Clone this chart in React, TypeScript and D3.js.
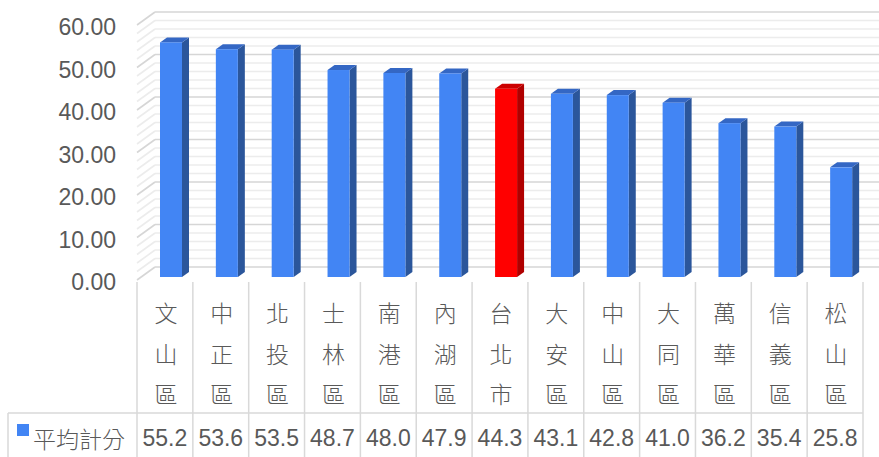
import React from "react";
import * as d3 from "d3";

const categories = ["文山區", "中正區", "北投區", "士林區", "南港區", "內湖區", "台北市", "大安區", "中山區", "大同區", "萬華區", "信義區", "松山區"];
const values = [55.2, 53.6, 53.5, 48.7, 48.0, 47.9, 44.3, 43.1, 42.8, 41.0, 36.2, 35.4, 25.8];
const highlight = "台北市";
const seriesName = "平均計分";
const yTicks = [0, 10, 20, 30, 40, 50, 60];
const minorTicks = d3.range(0, 61, 2);

const W = 879, H = 457;
const DX = 18, DY = -13; // wall depth
const BDX = 7, BDY = -5; // bar depth
const NUM_FONT = "'Liberation Sans', Arial, sans-serif";
const CJK_FONT = "'Noto Sans CJK TC', 'Noto Sans CJK SC', sans-serif";
const TXT = "#595959";

export default function App() {
  const x = d3.scaleBand<string>().domain(categories).range([137, 863]).paddingInner(0).paddingOuter(0);
  const yFront = d3.scaleLinear().domain([0, 60]).range([280, 25]);
  const yBack = (v: number) => yFront(v) + DY;
  const yBar = (v: number) => yFront(v) - 3;
  const wallX0 = 137, wallX1 = wallX0 + DX;
  const tableTop = 282, rowSplit = 413;
  const barW = 22;

  return (
    <svg width={W} height={H} style={{ position: "absolute", left: 0, top: 0, background: "#fff" }}>
      {/* minor gridlines */}
      {minorTicks.filter((t) => t % 10 !== 0).map((t) => (
        <g key={"m" + t} stroke="#ececec" strokeWidth={1.6} fill="none">
          <line x1={wallX1} x2={W} y1={yBack(t)} y2={yBack(t)} />
          <line x1={wallX0} x2={wallX1} y1={yFront(t)} y2={yBack(t)} />
        </g>
      ))}
      {/* major gridlines */}
      {yTicks.map((t) => (
        <g key={"M" + t} stroke="#d6d6d6" strokeWidth={1.6} fill="none">
          <line x1={wallX1} x2={W} y1={yBack(t)} y2={yBack(t)} />
          <line x1={wallX0} x2={wallX1} y1={yFront(t)} y2={yBack(t)} />
        </g>
      ))}
      {/* y labels */}
      {yTicks.map((t) => (
        <text key={"yl" + t} x={116} y={yFront(t) + 2} textAnchor="end" dominantBaseline="central"
          fontFamily={NUM_FONT} fontSize={23} fill={TXT}>{t.toFixed(2)}</text>
      ))}
      {/* bars */}
      {categories.map((c, i) => {
        const v = values[i];
        const x0 = (x(c) as number) + 23;
        const yt = yBar(v);
        const yb = yBar(0);
        const red = c === highlight;
        const front = red ? "#ff0000" : "#4285f4";
        const side = red ? "#b00000" : "#2b569b";
        const top = red ? "#cc0000" : "#3467c4";
        return (
          <g key={c}>
            <polygon points={`${x0 + barW},${yt} ${x0 + barW + BDX},${yt + BDY} ${x0 + barW + BDX},${yb + BDY} ${x0 + barW},${yb}`} fill={side} />
            <polygon points={`${x0},${yt} ${x0 + BDX},${yt + BDY} ${x0 + barW + BDX},${yt + BDY} ${x0 + barW},${yt}`} fill={top} />
            <rect x={x0} y={yt} width={barW} height={yb - yt} fill={front} />
          </g>
        );
      })}
      {/* data table lines */}
      <g stroke="#d9d9d9" strokeWidth={1.5}>
        {categories.map((c) => (
          <line key={"v" + c} x1={x(c) as number} x2={x(c) as number} y1={tableTop} y2={H} />
        ))}
        <line x1={863} x2={863} y1={tableTop} y2={H} />
        <line x1={8} x2={8} y1={rowSplit} y2={H} />
        <line x1={8} x2={863} y1={rowSplit} y2={rowSplit} />
      </g>
      {/* category labels stacked */}
      {categories.map((c) => {
        const cx = (x(c) as number) + x.bandwidth() / 2 + 1;
        return (
          <text key={"c" + c} x={cx} textAnchor="middle" fontFamily={CJK_FONT} fontSize={23} fontWeight={300} fill={TXT}>
            {Array.from(c).map((ch, k) => (
              <tspan key={k} x={cx} y={312 + k * 40.5} dominantBaseline="central">{ch}</tspan>
            ))}
          </text>
        );
      })}
      {/* values row */}
      {categories.map((c, i) => (
        <text key={"val" + c} x={(x(c) as number) + x.bandwidth() / 2} y={438} textAnchor="middle" dominantBaseline="central"
          fontFamily={NUM_FONT} fontSize={23} fill={TXT}>{values[i].toFixed(1)}</text>
      ))}
      {/* legend */}
      <rect x={17} y={424} width={12} height={12} fill="#4285f4" />
      <text x={33} y={438} dominantBaseline="central" fontFamily={CJK_FONT} fontSize={23} fontWeight={300} fill={TXT}>{seriesName}</text>
    </svg>
  );
}
